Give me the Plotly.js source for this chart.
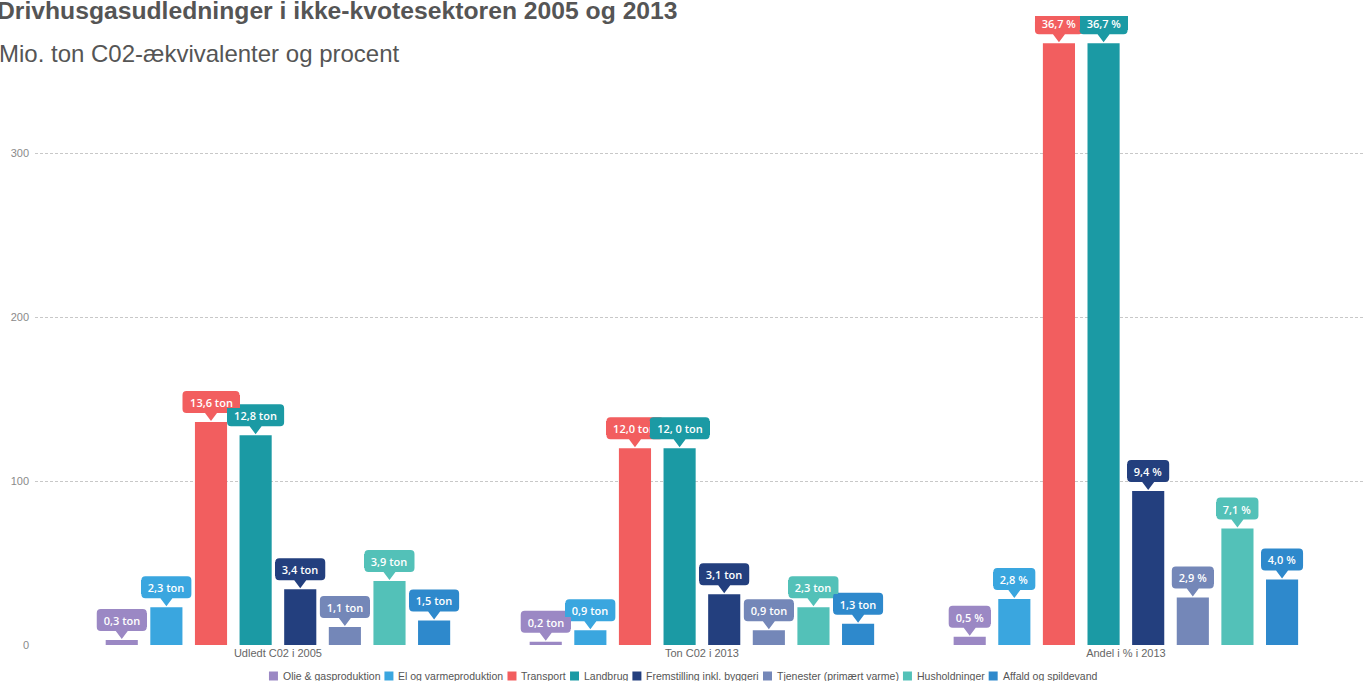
<!DOCTYPE html>
<html>
<head>
<meta charset="utf-8">
<script src="https://cdn.plot.ly/plotly-3.0.1.min.js"></script>
<style>html,body{margin:0;padding:0;background:#fff;}#chart{width:1365px;height:681px;}</style>
</head>
<body>
<div id="chart"></div>
<script>
// ---- data ----
const categories = ['Udledt C02 i 2005', 'Ton C02 i 2013', 'Andel i % i 2013'];
const units = ['ton', 'ton', '%'];
const seriesNames = ['Olie & gasproduktion', 'El og varmeproduktion', 'Transport', 'Landbrug',
  'Fremstilling inkl. byggeri', 'Tjenester (primært varme)', 'Husholdninger', 'Affald og spildevand'];
const seriesColors = ['#9b88c4', '#3aa6df', '#f25e5f', '#1b9aa4', '#233f7e', '#7487b8', '#53c1b8', '#2e89cc'];
const olie = [0.3, 0.2, 0.5];
const elVarme = [2.3, 0.9, 2.8];
const transport = [13.6, 12.0, 36.7];
const landbrug = [12.8, 12.0, 36.7];
const fremstilling = [3.4, 3.1, 9.4];
const tjenester = [1.1, 0.9, 2.9];
const husholdninger = [3.9, 2.3, 7.1];
const affald = [1.5, 1.3, 4.0];
const labelOverrides = {3: {1: '12, 0 ton'}};
const scale = 10; // plotted on the 0–300+ axis
const seriesValues = [olie, elVarme, transport, landbrug, fremstilling, tjenester, husholdninger, affald];

// ---- layout params ----
const W = 1365, H = 681;
const M = {l: 35, r: 0, t: 22, b: 36};
const plotW = W - M.l - M.r, plotH = H - M.t - M.b;
const bargap = 0.158, bargroupgap = 0.28;
const nS = seriesValues.length;
const slot = (1 - bargap) / nS;
const labelFont = {family: '"Open Sans", Arial, sans-serif', size: 11, color: '#ffffff', weight: 600};

const canvas = document.createElement('canvas');
const ctx = canvas.getContext('2d');
function textWidth(txt, font) { ctx.font = font; return ctx.measureText(txt).width; }

function fmt(v, i) { return v.toFixed(1).replace('.', ',') + ' ' + units[i]; }

const xs = categories.map((c, i) => i);
const traces = seriesValues.map((vals, j) => ({
  type: 'bar',
  name: seriesNames[j],
  x: xs,
  y: vals.map(v => v * scale),
  marker: {color: seriesColors[j]},
  hoverinfo: 'skip',
  showlegend: false
}));

const annotations = [];
const shapes = [];
seriesValues.forEach((vals, j) => {
  vals.forEach((v, i) => {
    const xpos = i + (j - (nS - 1) / 2) * slot;
    const yv = v * scale;
    const txt = (labelOverrides[j] && labelOverrides[j][i]) || fmt(v, i);
    const bw = Math.round(textWidth(txt, '600 11px "Open Sans"') + 14);
    const x0 = -bw / 2, x1 = bw / 2, y0 = 9, y1 = 31, r = 4;
    const path = `M${x0 + r},${y0} L-6,${y0} L0,1 L6,${y0} L${x1 - r},${y0} Q${x1},${y0} ${x1},${y0 + r} ` +
      `L${x1},${y1 - r} Q${x1},${y1} ${x1 - r},${y1} L${x0 + r},${y1} Q${x0},${y1} ${x0},${y1 - r} ` +
      `L${x0},${y0 + r} Q${x0},${y0} ${x0 + r},${y0} Z`;
    shapes.push({
      type: 'path', layer: 'above',
      xref: 'x', yref: 'y', xsizemode: 'pixel', ysizemode: 'pixel',
      xanchor: xpos, yanchor: yv, path: path,
      fillcolor: seriesColors[j], line: {width: 0}
    });
    annotations.push({
      x: xpos, y: yv, xref: 'x', yref: 'y',
      text: txt, showarrow: false, font: labelFont,
      bgcolor: seriesColors[j], borderpad: 0, borderwidth: 0,
      width: bw, height: 14,
      xanchor: 'center', yanchor: 'middle', yshift: 20
    });
  });
});

// titles
annotations.push({
  xref: 'paper', yref: 'paper', x: -40 / plotW, y: 1, xanchor: 'left', yanchor: 'middle', yshift: 12,
  text: '<b>Drivhusgasudledninger i ikke-kvotesektoren 2005 og 2013</b>', showarrow: false,
  font: {family: '"Liberation Sans", Arial, sans-serif', size: 24.7, color: '#555555'}
});
annotations.push({
  xref: 'paper', yref: 'paper', x: -38 / plotW, y: 1, xanchor: 'left', yanchor: 'middle', yshift: -31,
  text: 'Mio. ton C02-ækvivalenter og procent', showarrow: false,
  font: {family: '"Liberation Sans", Arial, sans-serif', size: 24, color: '#555555'}
});

// custom compact legend (swatch + text), centred under the chart
const legSize = 10.5;
const legFont = legSize + 'px "Liberation Sans"';
const sw = 9, gapIn = 4, gapOut = 5;
const widths = seriesNames.map(n => textWidth(n, legFont));
const total = widths.reduce((a, w) => a + sw + gapIn + w + gapOut, 0) - gapOut;
let cx = W / 2 - total / 2;
const legY = 676;
const toPx = px => (px - M.l) / plotW;
const toPy = py => (H - M.b - py) / plotH;
seriesNames.forEach((n, j) => {
  shapes.push({
    type: 'rect', xref: 'paper', yref: 'paper', layer: 'above',
    x0: toPx(cx), x1: toPx(cx + sw), y0: toPy(legY + sw / 2), y1: toPy(legY - sw / 2),
    fillcolor: seriesColors[j], line: {width: 0}
  });
  annotations.push({
    xref: 'paper', yref: 'paper', x: toPx(cx + sw + gapIn - 1), y: toPy(legY),
    xanchor: 'left', yanchor: 'middle', showarrow: false, text: n,
    font: {family: '"Liberation Sans", Arial, sans-serif', size: legSize, color: '#555555'}
  });
  cx += sw + gapIn + widths[j] + gapOut;
});

const layout = {
  width: W, height: H,
  margin: {l: M.l, r: M.r, t: M.t, b: M.b, autoexpand: false},
  paper_bgcolor: '#ffffff', plot_bgcolor: '#ffffff',
  barmode: 'group', bargap: bargap, bargroupgap: bargroupgap,
  showlegend: false,
  xaxis: {
    type: 'linear', range: [-0.573, 2.564],
    tickvals: xs, ticktext: categories,
    showgrid: false, zeroline: false, showline: false, ticks: '',
    tickfont: {family: '"Liberation Sans", Arial, sans-serif', size: 11, color: '#666666'},
    fixedrange: true
  },
  yaxis: {
    range: [0, 380], tickvals: [0, 100, 200, 300],
    showgrid: true, gridcolor: '#c8c8c8', griddash: '3px,2px', gridwidth: 1,
    zeroline: false, showline: false, ticks: '', ticklabelstandoff: 5,
    tickfont: {family: '"Liberation Sans", Arial, sans-serif', size: 11, color: '#8a8a8a'},
    fixedrange: true
  },
  annotations: annotations,
  shapes: shapes
};

Plotly.newPlot('chart', traces, layout, {displayModeBar: false, staticPlot: true});
</script>
</body>
</html>
